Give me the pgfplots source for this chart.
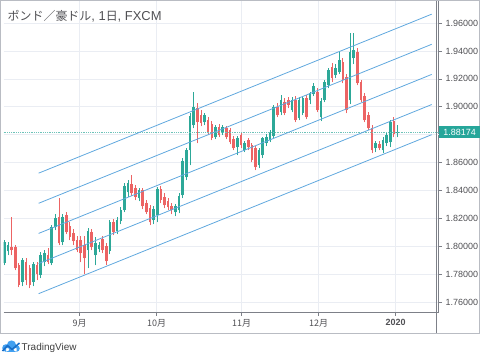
\documentclass[border=0pt]{standalone}
\usepackage{pgfplots}
\pgfplotsset{compat=1.18}
\usepackage{pgfplotstable}
\usepackage{fontspec}
\setmainfont{Liberation Sans}
\newfontfamily\cjk{Noto Sans CJK JP}
\definecolor{upcol}{RGB}{45,168,152}
\definecolor{dncol}{RGB}{236,100,100}
\definecolor{chancol}{RGB}{96,168,222}
\definecolor{gridcol}{RGB}{234,237,243}
\definecolor{axcol}{RGB}{125,128,136}
\definecolor{framecol}{RGB}{185,188,195}
\definecolor{lblcol}{RGB}{80,80,84}
\definecolor{lpcol}{RGB}{38,166,154}
\definecolor{lpline}{RGB}{110,195,185}
\definecolor{tvblue}{RGB}{66,160,240}
\definecolor{tvdark}{RGB}{25,110,200}

\pgfplotstableread{
i O H L C
0 1.7877 1.8042 1.7863 1.8028
1 1.7963 1.8028 1.7934 1.8006
5 1.7741 1.7913 1.7712 1.7898
8 1.7741 1.7884 1.7712 1.7870
10 1.7791 1.7956 1.7769 1.7934
11 1.7884 1.7970 1.7855 1.7949
13 1.7877 1.8149 1.7863 1.8135
14 1.8135 1.8228 1.8114 1.8200
16 1.8028 1.8228 1.8006 1.8207
23 1.7970 1.8128 1.7841 1.8106
25 1.7934 1.8063 1.7863 1.8020
26 1.7977 1.8028 1.7956 1.8006
29 1.7963 1.8185 1.7941 1.8171
31 1.8106 1.8207 1.8085 1.8185
32 1.8178 1.8278 1.8157 1.8257
33 1.8257 1.8451 1.8243 1.8429
34 1.8386 1.8472 1.8350 1.8451
37 1.8343 1.8415 1.8321 1.8400
41 1.8185 1.8286 1.8157 1.8264
42 1.8221 1.8422 1.8171 1.8408
47 1.8243 1.8300 1.8214 1.8286
48 1.8257 1.8379 1.8235 1.8357
49 1.8365 1.8630 1.8343 1.8608
50 1.8494 1.8702 1.8472 1.8687
51 1.8687 1.8952 1.8580 1.8931
52 1.8866 1.9103 1.8845 1.8996
55 1.8888 1.8952 1.8866 1.8938
58 1.8780 1.8866 1.8766 1.8852
60 1.8809 1.8866 1.8795 1.8852
64 1.8709 1.8788 1.8651 1.8773
66 1.8687 1.8752 1.8673 1.8737
70 1.8580 1.8702 1.8558 1.8687
71 1.8651 1.8780 1.8630 1.8773
72 1.8737 1.8802 1.8716 1.8780
73 1.8759 1.8831 1.8745 1.8809
74 1.8788 1.9010 1.8773 1.8996
76 1.8960 1.9082 1.8938 1.9046
79 1.8974 1.9067 1.8960 1.9046
81 1.8917 1.9067 1.8902 1.9046
82 1.8952 1.9074 1.8938 1.9060
84 1.9046 1.9103 1.9017 1.9096
85 1.9089 1.9168 1.9074 1.9146
87 1.8924 1.9060 1.8895 1.9038
88 1.9046 1.9189 1.9031 1.9175
89 1.9153 1.9275 1.9132 1.9261
91 1.9225 1.9304 1.9203 1.9275
92 1.9246 1.9390 1.9232 1.9333
95 1.9046 1.9526 1.9017 1.9390
96 1.9347 1.9526 1.9304 1.9404
102 1.8702 1.8752 1.8673 1.8737
104 1.8687 1.8780 1.8666 1.8759
105 1.8737 1.8809 1.8716 1.8795
106 1.8745 1.8902 1.8709 1.8888
108 1.8809 1.8866 1.8780 1.88174
}\upcandles

\pgfplotstableread{
i O H L C
2 1.7992 1.8207 1.7934 1.7970
3 1.7992 1.8006 1.7827 1.7841
4 1.7863 1.7877 1.7705 1.7719
6 1.7884 1.7913 1.7719 1.7755
7 1.7841 1.7863 1.7698 1.7719
9 1.7863 1.7884 1.7755 1.7798
12 1.7934 1.7985 1.7870 1.7884
15 1.8207 1.8343 1.8006 1.8020
17 1.8221 1.8243 1.8085 1.8099
18 1.8142 1.8171 1.8042 1.8063
19 1.8092 1.8121 1.8006 1.8035
20 1.8042 1.8071 1.7956 1.7970
21 1.8042 1.8071 1.7884 1.7949
22 1.8006 1.8071 1.7798 1.7913
24 1.8099 1.8121 1.7970 1.7992
27 1.8049 1.8071 1.7949 1.7970
28 1.7999 1.8020 1.7863 1.7891
30 1.8171 1.8192 1.8078 1.8099
35 1.8443 1.8508 1.8357 1.8379
36 1.8415 1.8436 1.8329 1.8350
38 1.8400 1.8415 1.8264 1.8286
39 1.8307 1.8329 1.8228 1.8243
40 1.8271 1.8293 1.8149 1.8171
43 1.8408 1.8429 1.8307 1.8329
44 1.8350 1.8379 1.8271 1.8293
45 1.8321 1.8343 1.8257 1.8278
46 1.8286 1.8307 1.8228 1.8257
53 1.8988 1.9024 1.8737 1.8888
54 1.8938 1.8974 1.8859 1.8881
56 1.8902 1.8924 1.8795 1.8809
57 1.8874 1.8895 1.8759 1.8773
59 1.8852 1.8874 1.8780 1.8795
61 1.8845 1.8859 1.8766 1.8780
62 1.8831 1.8845 1.8730 1.8745
63 1.8766 1.8788 1.8687 1.8702
65 1.8795 1.8816 1.8702 1.8723
67 1.8759 1.8773 1.8687 1.8709
68 1.8723 1.8737 1.8601 1.8616
69 1.8702 1.8716 1.8544 1.8565
75 1.8996 1.9024 1.8924 1.8938
77 1.9031 1.9060 1.8938 1.8952
78 1.9046 1.9067 1.8988 1.9010
80 1.9046 1.9074 1.8888 1.8902
83 1.9060 1.9082 1.8909 1.8924
86 1.9103 1.9132 1.8960 1.8974
90 1.9282 1.9311 1.9175 1.9203
93 1.9318 1.9347 1.9168 1.9189
94 1.9211 1.9232 1.8952 1.8974
97 1.9390 1.9419 1.9153 1.9168
98 1.9175 1.9189 1.9031 1.9046
99 1.9074 1.9096 1.8888 1.8902
100 1.8938 1.8960 1.8831 1.8845
101 1.8845 1.8866 1.8666 1.8687
103 1.8730 1.8752 1.8687 1.8702
107 1.8895 1.8924 1.8780 1.8802
}\downcandles

\begin{document}
\begin{tikzpicture}[x=1bp,y=1bp]
\useasboundingbox (0,0) rectangle (480,-357);
\begin{axis}[
  at={(1,-1)}, anchor=north west,
  scale only axis, width=435bp, height=311bp,
  xmin=-0.19, xmax=119.31, ymin=1.75257, ymax=1.97555,
  axis x line=bottom, axis y line=right,
  axis line style={-, draw=axcol, line width=0.8bp},
  tick align=outside, major tick length=3.5bp,
  tick style={draw=axcol, line width=0.6bp},
  grid=major, major grid style={draw=gridcol, line width=0.7bp},
  xtick={20.69,41.84,65.19,86.35,107.5},
  xticklabels={{\cjk 9月},{\cjk 10月},{\cjk 11月},{\cjk 12月},{\bfseries 2020}},
  ytick={1.76,1.78,1.80,1.82,1.84,1.86,1.90,1.92,1.94,1.96},
  extra y ticks={1.88}, extra y tick labels={},
  extra y tick style={major tick length=0pt, grid=major},
  yticklabel={\pgfmathprintnumber[fixed,fixed zerofill,precision=5,assume math mode=true]{\tick}},
  ticklabel style={font=\fontsize{9}{10}\selectfont, text=lblcol},
  clip=true,
]
% wicks
\addplot[draw=none, mark=none, forget plot,
  error bars/.cd, y dir=plus, y explicit, error mark=none,
  error bar style={draw=upcol, line width=0.8bp}]
  table[x=i, y=L, y error plus expr=\thisrow{H}-\thisrow{L}] {\upcandles};
\addplot[draw=none, mark=none, forget plot,
  error bars/.cd, y dir=plus, y explicit, error mark=none,
  error bar style={draw=dncol, line width=0.8bp}]
  table[x=i, y=L, y error plus expr=\thisrow{H}-\thisrow{L}] {\downcandles};
% bodies
\addplot[draw=none, mark=none, forget plot,
  error bars/.cd, y dir=plus, y explicit, error mark=none,
  error bar style={draw=upcol, line width=2.6bp}]
  table[x=i, y=O, y error plus expr=\thisrow{C}-\thisrow{O}] {\upcandles};
\addplot[draw=none, mark=none, forget plot,
  error bars/.cd, y dir=plus, y explicit, error mark=none,
  error bar style={draw=dncol, line width=2.6bp}]
  table[x=i, y=C, y error plus expr=\thisrow{O}-\thisrow{C}] {\downcandles};
% last price line
\addplot[lpline, densely dotted, line width=0.8bp, forget plot] coordinates {(-0.19,1.88174) (119.31,1.88174)};
% regression channel
\addplot[chancol, line width=0.8bp] coordinates {(9.42,1.8524) (117.4,1.9664)};
\addplot[chancol, line width=0.8bp] coordinates {(9.42,1.8308) (117.4,1.9448)};
\addplot[chancol, line width=0.8bp] coordinates {(9.42,1.8092) (117.4,1.9232)};
\addplot[chancol, line width=0.8bp] coordinates {(9.42,1.7876) (117.4,1.9016)};
\addplot[chancol, line width=0.8bp] coordinates {(9.42,1.7660) (117.4,1.8800)};
\coordinate (lp) at (axis cs:119.31,1.88174);
\end{axis}
% frame and extra axis lines
\draw[framecol, line width=0.8bp] (0.5,-0.5) rectangle (479.5,-333);
\draw[axcol, line width=0.8bp] (436,-0.5) -- (436,-333);
% last price label
\node[fill=lpcol, text=white, anchor=west, inner xsep=4.5bp, inner ysep=0pt,
  minimum height=12.5bp, font=\fontsize{9}{10}\selectfont] at (lp) {1.88174};
% title
\node[anchor=base west, text=lblcol, inner sep=0pt, font=\fontsize{13}{15}\selectfont] at (7.5,-20.5)
  {{\cjk\fontsize{12}{14}\selectfont ポンド／豪ドル}, 1{\cjk\fontsize{12}{14}\selectfont 日}, FXCM};
% TradingView logo
\fill[tvblue] (6,-348) circle (3.8) (11.5,-345) circle (4.6) (16.5,-348.5) circle (3.3) (6,-351.8) rectangle (16.5,-348);
\draw[tvdark, line width=1.6bp, line join=round] (2.5,-351) -- (7.5,-345.5) -- (12,-349.5) -- (19.5,-343);
\node[anchor=base west, text=black!75, inner sep=0pt, font=\fontsize{10}{12}\selectfont] at (21.5,-350.5) {TradingView};
\end{tikzpicture}
\end{document}
